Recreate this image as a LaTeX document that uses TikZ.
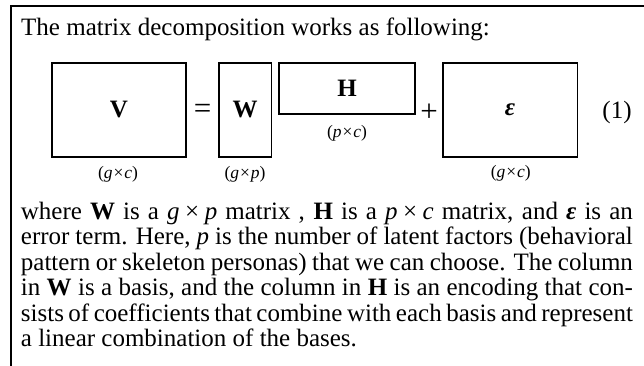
\documentclass[tikz,border=0pt]{standalone}
\usepackage{fontspec}
\setmainfont{Liberation Serif}
\begin{document}
\begin{tikzpicture}[x=1pt,y=-1pt,
  frame/.style={line width=1.8pt},
  mbox/.style={draw, line width=1.6pt, inner sep=0pt, font=\fontsize{25}{25.5}\selectfont\bfseries},
  dim/.style={inner sep=0pt, font=\fontsize{17.5}{20}\selectfont},
  sym/.style={inner sep=0pt, font=\fontsize{25}{25.5}\selectfont},
  op/.style={inner sep=0pt, font=\fontsize{31}{31}\selectfont},
  txt/.style={inner sep=0pt, anchor=base west, font=\fontsize{25}{25.5}\selectfont}]
\useasboundingbox (0,0) rectangle (644,365);
\draw[frame] (11,366) -- (11,6) -- (645,6);
\node[txt] (title) at (21,35.7) {The matrix decomposition works as following:};
% matrices
\node[mbox, minimum width=134.3pt, minimum height=94pt] (V) at (118.85,109.7) {V};
\node[mbox, minimum width=52.3pt, minimum height=94pt] (W) at (245.2,109.7) {W};
\node[mbox, minimum width=136pt, minimum height=51.3pt] (H) at (347,88.35) {H};
\node[mbox, minimum width=134.6pt, minimum height=94pt] (E) at (510,109.7) {\textit{ε}};
\node[op] (eq) at (202.7,111) {=};
\node[op] (plus) at (429,113) {+};
\node[sym] (num) at (617,112) {(1)};
% dimensions
\node[dim] (dV) at (118,174) {(\textit{g}\kern0.05em×\kern0.05em\textit{c})};
\node[dim] (dW) at (245,174) {(\textit{g}\kern0.05em×\kern0.05em\textit{p})};
\node[dim] (dH) at (347,133) {(\textit{p}\kern0.05em×\kern0.05em\textit{c})};
\node[dim] (dE) at (510.7,173.5) {(\textit{g}\kern0.05em×\kern0.05em\textit{c})};
% paragraph
\node[txt] (l1) at (20.7,219) {\makebox[612pt][s]{where \textbf{W} is a \textit{g}\kern0.22em×\kern0.22em\textit{p} matrix , \textbf{H} is a \textit{p}\kern0.22em×\kern0.22em\textit{c} matrix, and \textbf{\textit{ε}} is an}};
\node[txt] (l2) at (20.7,244.5) {\makebox[612pt][s]{error term. Here, \textit{p} is the number of latent factors (behavioral}};
\node[txt] (l3) at (20.7,270) {\makebox[612pt][s]{pattern or skeleton personas) that we can choose. The column}};
\node[txt] (l4) at (20.7,295.5) {\makebox[612pt][s]{in \textbf{W} is a basis, and the column in \textbf{H} is an encoding that con-}};
\node[txt] (l5) at (20.7,321) {\makebox[612pt][s]{sists of coefficients that combine with each basis and represent}};
\node[txt] (l6) at (20.7,346.5) {a linear combination of the bases.};
\end{tikzpicture}
\end{document}
